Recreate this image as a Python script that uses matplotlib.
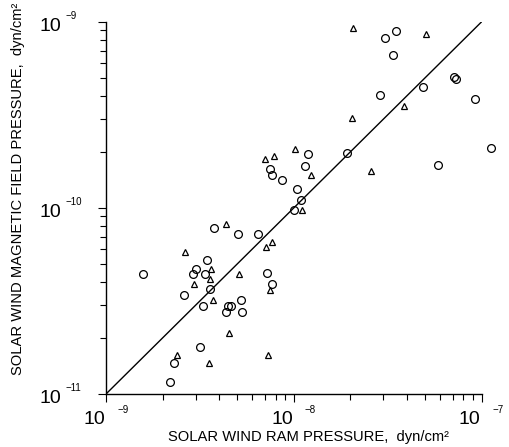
import numpy as np
import matplotlib
matplotlib.use("Agg")
import matplotlib.pyplot as plt
from matplotlib.transforms import offset_copy, blended_transform_factory

plt.rcParams['font.family'] = ['Liberation Sans', 'DejaVu Sans']

# ram pressure in units of 1e-9 dyn/cm^2, magnetic pressure in 1e-11 dyn/cm^2
circ_ram = [1.57, 3.78, 5.03, 6.41, 3.43, 3.02, 2.91, 3.36, 3.56, 2.61,
            3.30, 4.46, 4.61, 4.37, 5.22, 5.31, 7.16, 7.66, 3.16, 2.31,
            2.18, 9.97, 10.35, 10.87, 11.46, 11.85, 7.47, 7.64, 8.68, 19.3,
            28.8, 30.4, 35.0, 33.8, 48.5, 71.6, 73.0, 92.5, 111.7, 58.5]
circ_mag = [4.43, 7.82, 7.20, 7.20, 5.25, 4.69, 4.43, 4.43, 3.67, 3.40,
            2.96, 2.96, 2.96, 2.76, 3.18, 2.76, 4.47, 3.91, 1.78, 1.47,
            1.16, 9.71, 12.67, 11.02, 16.84, 19.54, 16.23, 15.07, 14.08, 19.6,
            40.2, 81.7, 89.5, 65.9, 44.6, 50.3, 49.4, 38.6, 21.0, 16.9]

tri_ram = [4.37, 2.64, 3.60, 3.58, 2.94, 5.10, 3.69, 7.07, 7.61, 7.43,
           4.52, 2.40, 3.53, 7.29, 7.05, 7.85, 10.16, 11.01, 12.29, 20.6,
           50.6, 38.7, 20.5, 25.6]
tri_mag = [8.19, 5.79, 4.69, 4.16, 3.88, 4.43, 3.18, 6.16, 6.52, 3.63,
           2.13, 1.61, 1.46, 1.62, 18.3, 18.9, 20.7, 9.69, 15.07, 92.9,
           86.2, 35.4, 30.2, 15.7]

# equality line  P_B = 0.01 * P_ram
fit_ram = [1.0, 100.0]
fit_mag = [1.0, 100.0]

xticks = [1e-9, 1e-8, 1e-7]
xexps = ['\u22129', '\u22128', '\u22127']
yticks = [1e-11, 1e-10, 1e-9]
yexps = ['\u221211', '\u221210', '\u22129']

fig = plt.figure(figsize=(5.09, 4.47), dpi=100)
ax = fig.add_axes([106 / 509, 53 / 447, 375.7 / 509, 372.3 / 447])

ax.plot(np.array(fit_ram) * 1e-9, np.array(fit_mag) * 1e-11, color='black', lw=1.0)
ax.plot(np.array(circ_ram) * 1e-9, np.array(circ_mag) * 1e-11, linestyle='none',
        marker='o', ms=5.6, mfc='none', mec='black', mew=0.9, clip_on=False)
ax.plot(np.array(tri_ram) * 1e-9, np.array(tri_mag) * 1e-11, linestyle='none',
        marker='^', ms=5.0, mfc='none', mec='black', mew=0.9, clip_on=False)

ax.set_xscale('log')
ax.set_yscale('log')
ax.set_xlim(1e-9, 1e-7)
ax.set_ylim(1e-11, 1e-9)

for side in ['top', 'right']:
    ax.spines[side].set_visible(False)
for side in ['left', 'bottom']:
    ax.spines[side].set_linewidth(1.0)

ax.tick_params(which='major', direction='out', length=6, width=0.8)
ax.tick_params(which='minor', direction='out', length=4.5, width=0.8)
ax.set_xticks(xticks)
ax.set_yticks(yticks)
ax.set_xticklabels([])
ax.set_yticklabels([])
ax.xaxis.set_minor_formatter(matplotlib.ticker.NullFormatter())
ax.yaxis.set_minor_formatter(matplotlib.ticker.NullFormatter())

# tick labels drawn as "10" plus a small separated exponent
tx = blended_transform_factory(ax.transData, ax.transAxes)
for v, e in zip(xticks, xexps):
    ax.text(v, 0, '10', fontsize=14, ha='right', va='baseline',
            transform=offset_copy(tx, fig, x=-1, y=-30, units='dots'))
    ax.text(v, 0, e, fontsize=7, ha='left', va='baseline',
            transform=offset_copy(tx, fig, x=11, y=-19, units='dots'))

ty = blended_transform_factory(ax.transAxes, ax.transData)
for v, e in zip(yticks, yexps):
    ax.text(0, v, '10', fontsize=14, ha='right', va='baseline',
            transform=offset_copy(ty, fig, x=-45, y=-9, units='dots'))
    ax.text(0, v, e, fontsize=7, ha='left', va='baseline',
            transform=offset_copy(ty, fig, x=-40, y=3, units='dots'))

fig.text(308 / 509, 5.5 / 447, 'SOLAR WIND RAM PRESSURE,  dyn/cm\u00b2',
         fontsize=10.6, ha='center', va='baseline')
fig.text(18.5 / 509, 1 - 189 / 447, 'SOLAR WIND MAGNETIC FIELD PRESSURE,  dyn/cm\u00b2',
         fontsize=10.6, ha='center', va='center', rotation=90)

fig.savefig('out.png', dpi=100)
